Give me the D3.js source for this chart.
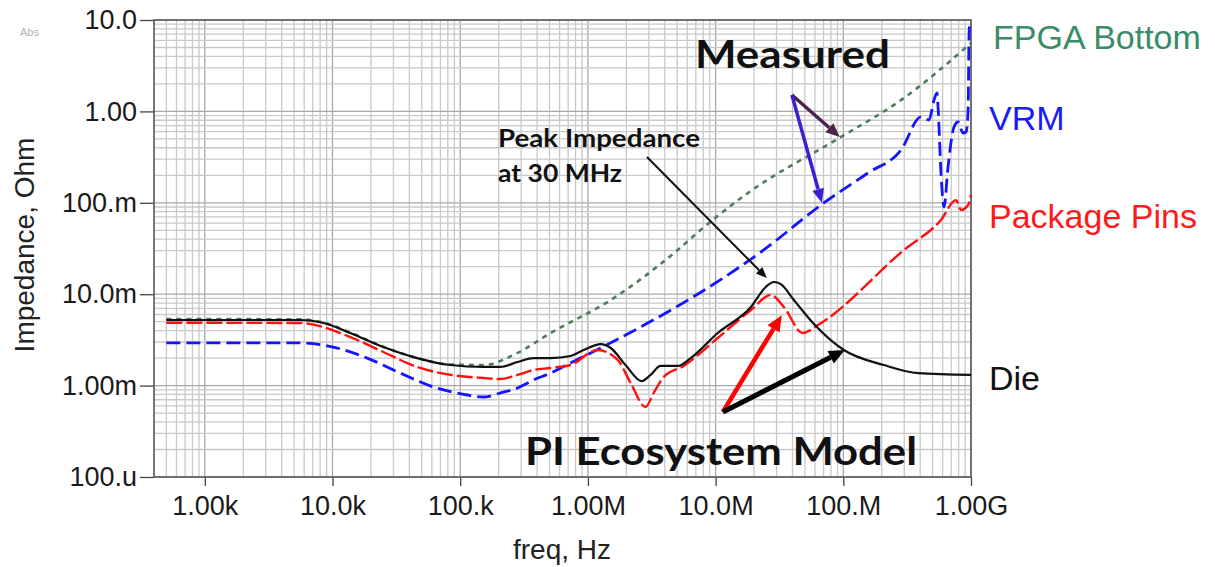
<!DOCTYPE html>
<html>
<head>
<meta charset="utf-8">
<script src="https://cdn.jsdelivr.net/npm/d3@7"></script>
<style>
  body { margin: 0; background: #fff; }
  svg { display: block; }
</style>
</head>
<body>
<div id="main"></div>
<script>
// impedance curves (freq in Hz, impedance in Ohm)
var freqDie = [500, 5.6e3, 8.5e3, 13.8e3, 25e3, 46e3, 84e3, 152e3, 206e3, 281e3, 375e3, 510e3, 731e3, 925e3,
    1.26e6, 1.51e6, 1.97e6, 2.64e6, 3.1e6, 3.71e6, 5.05e6, 6.38e6, 10.4e6, 18.9e6, 24.7e6, 28.6e6, 32.4e6,
    41e6, 58.9e6, 101e6, 208e6, 385e6, 1e9];
var zDie = [5.22e-3, 5.22e-3, 4.84e-3, 3.76e-3, 2.64e-3, 2.0e-3, 1.68e-3, 1.60e-3, 1.60e-3, 1.81e-3, 2.0e-3, 2.0e-3,
    2.11e-3, 2.45e-3, 2.85e-3, 2.58e-3, 1.68e-3, 1.12e-3, 1.31e-3, 1.64e-3, 1.64e-3, 2.0e-3, 3.76e-3, 7.24e-3,
    12.0e-3, 13.6e-3, 12.9e-3, 8.65e-3, 4.72e-3, 2.45e-3, 1.68e-3, 1.37e-3, 1.31e-3];

var freqPkg = [500, 5.6e3, 13.8e3, 25e3, 46e3, 84e3, 152e3, 206e3, 281e3, 375e3, 510e3, 731e3, 1.19e6, 1.71e6,
    2.16e6, 2.83e6, 3.27e6, 3.92e6, 5.62e6, 10.4e6, 18.9e6, 27e6, 34.2e6, 48.2e6, 63.2e6, 299e6, 582e6, 763e6,
    836e6, 949e6, 1e9];
var zPkg = [4.87e-3, 4.84e-3, 3.40e-3, 2.33e-3, 1.60e-3, 1.31e-3, 1.21e-3, 1.18e-3, 1.31e-3, 1.48e-3, 1.56e-3,
    1.68e-3, 2.45e-3, 1.91e-3, 1.07e-3, 0.583e-3, 0.83e-3, 1.24e-3, 1.64e-3, 3.32e-3, 6.71e-3, 9.8e-3, 7.24e-3,
    3.76e-3, 4.60e-3, 30.5e-3, 64.9e-3, 107e-3, 83.4e-3, 94.6e-3, 122e-3];

var freqVrm = [500, 5.6e3, 10.1e3, 18.7e3, 34e3, 61.6e3, 114e3, 152e3, 206e3, 281e3, 375e3, 510e3, 731e3, 1.26e6,
    23.8e6, 70.3e6, 156e6, 283e6, 406e6, 469e6, 513e6, 542e6, 552e6, 582e6, 615e6, 661e6, 736e6, 792e6, 867e6,
    915e6, 949e6, 966e6, 983e6, 1e9];
var zVrm = [2.94e-3, 2.93e-3, 2.64e-3, 2.0e-3, 1.37e-3, 0.966e-3, 0.789e-3, 0.75e-3, 0.83e-3, 0.94e-3, 1.15e-3,
    1.37e-3, 1.77e-3, 2.58e-3, 30.5e-3, 99.6e-3, 212e-3, 378e-3, 0.869, 0.805, 1.33, 1.59, 1.12, 0.212, 0.090,
    0.247, 0.675, 0.766, 0.58, 0.595, 1.03, 7.2, 9.27, 9.5];

var freqFpga = [500, 5.6e3, 8.5e3, 13.8e3, 25e3, 46e3, 84e3, 152e3, 281e3, 510e3, 1.51e6, 5.05e6, 7.62e6,
    17.9e6, 96e6, 283e6, 1e9];
var zFpga = [5.36e-3, 5.3e-3, 4.9e-3, 3.8e-3, 2.66e-3, 2.0e-3, 1.7e-3, 1.68e-3, 2.28e-3, 3.76e-3, 8.65e-3,
    30.5e-3, 50.4e-3, 0.128, 0.525, 1.33, 5.6];

var xTicks = [1e3, 1e4, 1e5, 1e6, 1e7, 1e8, 1e9];
var xTickLabels = ["1.00k", "10.0k", "100.k", "1.00M", "10.0M", "100.M", "1.00G"];
var yTicks = [1e-4, 1e-3, 1e-2, 1e-1, 1, 10];
var yTickLabels = ["100.u", "1.00m", "10.0m", "100.m", "1.00", "10.0"];

var width = 1215,
    height = 567;
// note: "top" is taken by window.top, so prefix these
var pLeft = 154, pRight = 971, pTop = 20, pBottom = 477;

var svg = d3.select("#main").append("svg")
    .attr("width", width)
    .attr("height", height)
    .style("font-family", "'Liberation Sans', Arial, sans-serif");

var x = d3.scaleLog().domain([400, 1e9]).range([pLeft, pRight]);
var y = d3.scaleLog().domain([1e-4, 10]).range([pBottom, pTop]);

// grid: every 1..9 multiple, decades a bit darker
var grid = svg.append("g");
grid.selectAll(".vgrid")
    .data(x.ticks())
    .enter().append("line")
    .attr("x1", function(d){ return x(d); })
    .attr("x2", function(d){ return x(d); })
    .attr("y1", pTop).attr("y2", pBottom)
    .attr("stroke", function(d){ return xTicks.indexOf(d) >= 0 ? "#a8a8a8" : "#c9c9c9"; })
    .attr("stroke-width", 1.3);
grid.selectAll(".hgrid")
    .data(y.ticks())
    .enter().append("line")
    .attr("y1", function(d){ return y(d); })
    .attr("y2", function(d){ return y(d); })
    .attr("x1", pLeft).attr("x2", pRight)
    .attr("stroke", function(d){ return yTicks.indexOf(d) >= 0 ? "#a8a8a8" : "#c9c9c9"; })
    .attr("stroke-width", 1.3);

// axes
var xAxis = svg.append("g")
    .attr("transform", "translate(0," + pBottom + ")")
    .call(d3.axisBottom(x).tickValues(xTicks)
        .tickFormat(function(d, i){ return xTickLabels[i]; })
        .tickSize(9).tickPadding(10));
var yAxis = svg.append("g")
    .attr("transform", "translate(" + pLeft + ",0)")
    .call(d3.axisLeft(y).tickValues(yTicks)
        .tickFormat(function(d, i){ return yTickLabels[i]; })
        .tickSize(14).tickPadding(3));
[xAxis, yAxis].forEach(function(a){
    a.select(".domain").remove();
    a.selectAll("line").attr("stroke", "#444").attr("stroke-width", 1.3);
    a.selectAll("text").attr("fill", "#1a1a1a").style("font-size", "27px")
        .style("font-family", "'Liberation Sans', Arial, sans-serif");
});

svg.append("rect")
    .attr("x", pLeft).attr("y", pTop)
    .attr("width", pRight - pLeft).attr("height", pBottom - pTop)
    .attr("fill", "none").attr("stroke", "#555").attr("stroke-width", 1.5);

svg.append("text")
    .attr("x", 562).attr("y", 559)
    .attr("text-anchor", "middle")
    .style("font-size", "28px").attr("fill", "#222")
    .text("freq, Hz");
svg.append("text")
    .attr("transform", "translate(34,245) rotate(-90)")
    .attr("text-anchor", "middle")
    .style("font-size", "28px").attr("fill", "#222")
    .text("Impedance, Ohm");
svg.append("text")
    .attr("x", 20).attr("y", 36)
    .style("font-size", "11px").attr("fill", "#b0b0b0")
    .text("Abs");

// curves
var series = [
    { f: freqFpga, z: zFpga, color: "#4c7d5c", dash: "5,5", w: 2.6 },
    { f: freqVrm, z: zVrm, color: "#1414ff", dash: "14,6", w: 2.8 },
    { f: freqPkg, z: zPkg, color: "#ff1010", dash: "16,4", w: 2.4 },
    { f: freqDie, z: zDie, color: "#111", dash: null, w: 2.2 }
];
var line = d3.line()
    .x(function(d){ return x(d[0]); })
    .y(function(d){ return y(d[1]); })
    .curve(d3.curveMonotoneX);

svg.append("clipPath").attr("id", "plotclip")
    .append("rect").attr("x", pLeft).attr("y", pTop - 2)
    .attr("width", pRight - pLeft + 2).attr("height", pBottom - pTop + 2);

svg.append("g").attr("clip-path", "url(#plotclip)")
    .selectAll("path")
    .data(series)
    .enter().append("path")
    .attr("d", function(s){ return line(d3.zip(s.f, s.z)); })
    .attr("fill", "none")
    .attr("stroke", function(s){ return s.color; })
    .attr("stroke-width", function(s){ return s.w; })
    .attr("stroke-dasharray", function(s){ return s.dash; })
    .attr("stroke-linejoin", "round");

// series names at the right
var names = ["FPGA Bottom", "VRM", "Package Pins", "Die"];
var nameColors = ["#3a8c68", "#1a1aff", "#ff1a1a", "#111"];
var nameY = [49, 130, 228, 390];
svg.selectAll(".sname")
    .data(names)
    .enter().append("text")
    .attr("x", function(d, i){ return i == 0 ? 993 : 989; })
    .attr("y", function(d, i){ return nameY[i]; })
    .attr("fill", function(d, i){ return nameColors[i]; })
    .style("font-size", "34px")
    .text(function(d){ return d; });

// annotations
function arrow(f0, z0, f1, z1, color, w, headLen, headW) {
    var x0 = x(f0), y0 = y(z0), x1 = x(f1), y1 = y(z1);
    var a = Math.atan2(y1 - y0, x1 - x0);
    var bx = x1 - headLen * Math.cos(a), by = y1 - headLen * Math.sin(a);
    svg.append("line")
        .attr("x1", x0).attr("y1", y0).attr("x2", bx).attr("y2", by)
        .attr("stroke", color).attr("stroke-width", w);
    var px = -Math.sin(a) * headW / 2, py = Math.cos(a) * headW / 2;
    svg.append("polygon")
        .attr("points", [[x1, y1], [bx + px, by + py], [bx - px, by - py]].join(" "))
        .attr("fill", color);
}

arrow(2.9e6, 0.317, 25.2e6, 15e-3, "#111", 2, 11, 9);
arrow(39.6e6, 1.51, 94e6, 0.525, "#4a2348", 3.5, 14, 12);
arrow(39.6e6, 1.51, 68e6, 0.1, "#3b1fd0", 3.5, 14, 12);
arrow(11.4e6, 0.514e-3, 33e6, 5.9e-3, "#ff0000", 4.5, 16, 14);
arrow(11.4e6, 0.514e-3, 103e6, 2.45e-3, "#000", 5, 16, 14);

var ann = svg.append("g")
    .style("font-family", "Lato, 'Open Sans', sans-serif")
    .style("font-weight", "700")
    .attr("fill", "#111");
ann.append("text").attr("x", 695).attr("y", 68)
    .attr("textLength", 195).attr("lengthAdjust", "spacingAndGlyphs")
    .style("font-size", "39px").text("Measured");
ann.append("text").attr("x", 498).attr("y", 147)
    .attr("textLength", 202).attr("lengthAdjust", "spacingAndGlyphs")
    .style("font-size", "24px").text("Peak Impedance");
ann.append("text").attr("x", 498).attr("y", 182)
    .attr("textLength", 124).attr("lengthAdjust", "spacingAndGlyphs")
    .style("font-size", "24px").text("at 30 MHz");
ann.append("text").attr("x", 525).attr("y", 465)
    .attr("textLength", 392).attr("lengthAdjust", "spacingAndGlyphs")
    .style("font-size", "39px").text("PI Ecosystem Model");
</script>
</body>
</html>
